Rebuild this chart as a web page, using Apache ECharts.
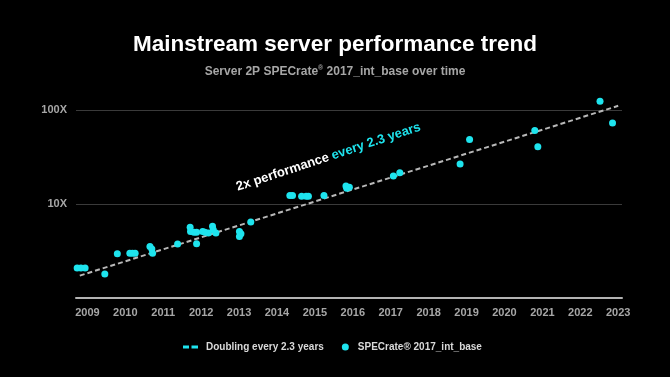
<!DOCTYPE html>
<html>
<head>
<meta charset="utf-8">
<title>Mainstream server performance trend</title>
<script src="https://cdn.jsdelivr.net/npm/echarts@6/dist/echarts.min.js"></script>
<style>
  html, body { margin: 0; padding: 0; background: #000; }
  #chart { width: 670px; height: 377px; }
</style>
</head>
<body>
<div id="chart"></div>
<script>
// values: [year, performance relative to 2009]
const specPoints = [
    [2008.73, 2.08], [2008.83, 2.08], [2008.94, 2.08],
    [2009.46, 1.80], [2009.79, 2.95],
    [2010.12, 3.0], [2010.19, 3.0], [2010.26, 3.0],
    [2010.65, 3.53], [2010.70, 3.31], [2010.72, 3.0],
    [2011.38, 3.75],
    [2011.71, 5.64], [2011.72, 5.11], [2011.81, 4.99], [2011.88, 4.99], [2011.88, 3.78],
    [2012.04, 5.11], [2012.10, 4.99], [2012.19, 4.91], [2012.30, 5.78], [2012.32, 5.33], [2012.39, 4.91],
    [2013.01, 5.11], [2013.01, 4.52], [2013.05, 4.83],
    [2013.31, 6.44],
    [2014.34, 12.3], [2014.41, 12.3], [2014.65, 12.1], [2014.77, 12.1], [2014.83, 12.1],
    [2015.24, 12.3],
    [2015.82, 15.5], [2015.84, 14.7], [2015.91, 15.1],
    [2017.07, 19.8], [2017.24, 21.5],
    [2018.83, 26.6], [2019.08, 48.4],
    [2020.80, 60.4], [2020.88, 40.7],
    [2022.52, 124], [2022.85, 72.8]
];
// dashed trend line end points (doubling every 2.3 years)
const trendPoints = [[2008.8, 1.73], [2023.0, 110.6]];
const yearLabels = [2009, 2010, 2011, 2012, 2013, 2014, 2015, 2016, 2017, 2018, 2019, 2020, 2021, 2022, 2023];
const annotationAt = [2015.36, 31.5];

const seriesNames = ['Doubling every 2.3 years', 'SPECrate® 2017_int_base'];

const cyan = '#1ee4ee';
const font = "'Liberation Sans', Arial, sans-serif";

const chart = echarts.init(document.getElementById('chart'), null, { renderer: 'canvas' });

const option = {
    backgroundColor: '#000',
    animation: false,
    title: [{
        text: 'Mainstream server performance trend',
        left: 'center',
        top: 28,
        textStyle: { color: '#fff', fontSize: 22.5, fontWeight: 'bold', fontFamily: font }
    }, {
        text: '{a|Server 2P SPECrate}{r|®}{a| 2017_int_base over time}',
        left: 'center',
        top: 60,
        textStyle: {
            fontFamily: font,
            rich: {
                a: { color: '#a6a6a6', fontSize: 12, lineHeight: 14, fontFamily: font },
                r: { color: '#a6a6a6', fontSize: 7, lineHeight: 10, verticalAlign: 'top', fontFamily: font }
            }
        }
    }],
    legend: {
        left: 183,
        top: 342,
        padding: 0,
        itemWidth: 15,
        itemHeight: 7,
        itemGap: 18,
        textStyle: { color: '#d9d9d9', fontSize: 10, fontWeight: 'bold', fontFamily: font },
        data: [{
            name: seriesNames[0],
            icon: 'path://M0,0H6V3H0Z M8.5,0H15V3H8.5Z',
            itemStyle: { color: cyan },
            textStyle: { padding: [0, 0, 0, 3] }
        }, {
            name: seriesNames[1],
            icon: 'circle',
            itemStyle: { color: cyan }
        }]
    },
    grid: { left: 76, right: 48, top: 77, bottom: 79 },
    xAxis: {
        type: 'value',
        min: 2008.7,
        max: 2023.1,
        axisLine: { show: true, lineStyle: { color: '#b3b3b3', width: 2 } },
        axisTick: { show: false },
        splitLine: { show: false },
        axisLabel: {
            customValues: yearLabels,
            color: '#a6a6a6',
            fontSize: 11,
            fontWeight: 'bold',
            fontFamily: font,
            margin: 9,
            formatter: v => String(v)
        }
    },
    yAxis: {
        type: 'log',
        logBase: 10,
        min: 1,
        max: 224,
        axisLine: { show: false },
        axisTick: { show: false },
        axisLabel: {
            showMinLabel: false,
            showMaxLabel: false,
            color: '#a6a6a6',
            fontSize: 11,
            fontWeight: 'bold',
            fontFamily: font,
            margin: 9,
            formatter: v => v + 'X'
        },
        splitLine: {
            show: true,
            showMinLine: false,
            showMaxLine: false,
            lineStyle: { color: '#3a3a3a', width: 1 }
        }
    },
    series: [{
        name: seriesNames[0],
        type: 'line',
        data: trendPoints,
        symbol: 'none',
        lineStyle: { color: '#b8b8b8', width: 2, type: [5, 3] },
        itemStyle: { color: cyan },
        z: 2,
        markPoint: {
            symbol: 'circle',
            symbolSize: 1,
            itemStyle: { color: 'transparent' },
            data: [{ coord: annotationAt }],
            label: {
                show: true,
                position: 'inside',
                rotate: 18.3,
                formatter: '{w|2x performance} {c|every 2.3 years}',
                rich: {
                    w: { color: '#fff', fontSize: 13, fontWeight: 'bold', fontFamily: font },
                    c: { color: cyan, fontSize: 13, fontWeight: 'bold', fontFamily: font }
                }
            }
        }
    }, {
        name: seriesNames[1],
        type: 'scatter',
        data: specPoints,
        symbolSize: 7,
        itemStyle: { color: cyan, opacity: 1 },
        z: 3
    }]
};

chart.setOption(option);
</script>
</body>
</html>
